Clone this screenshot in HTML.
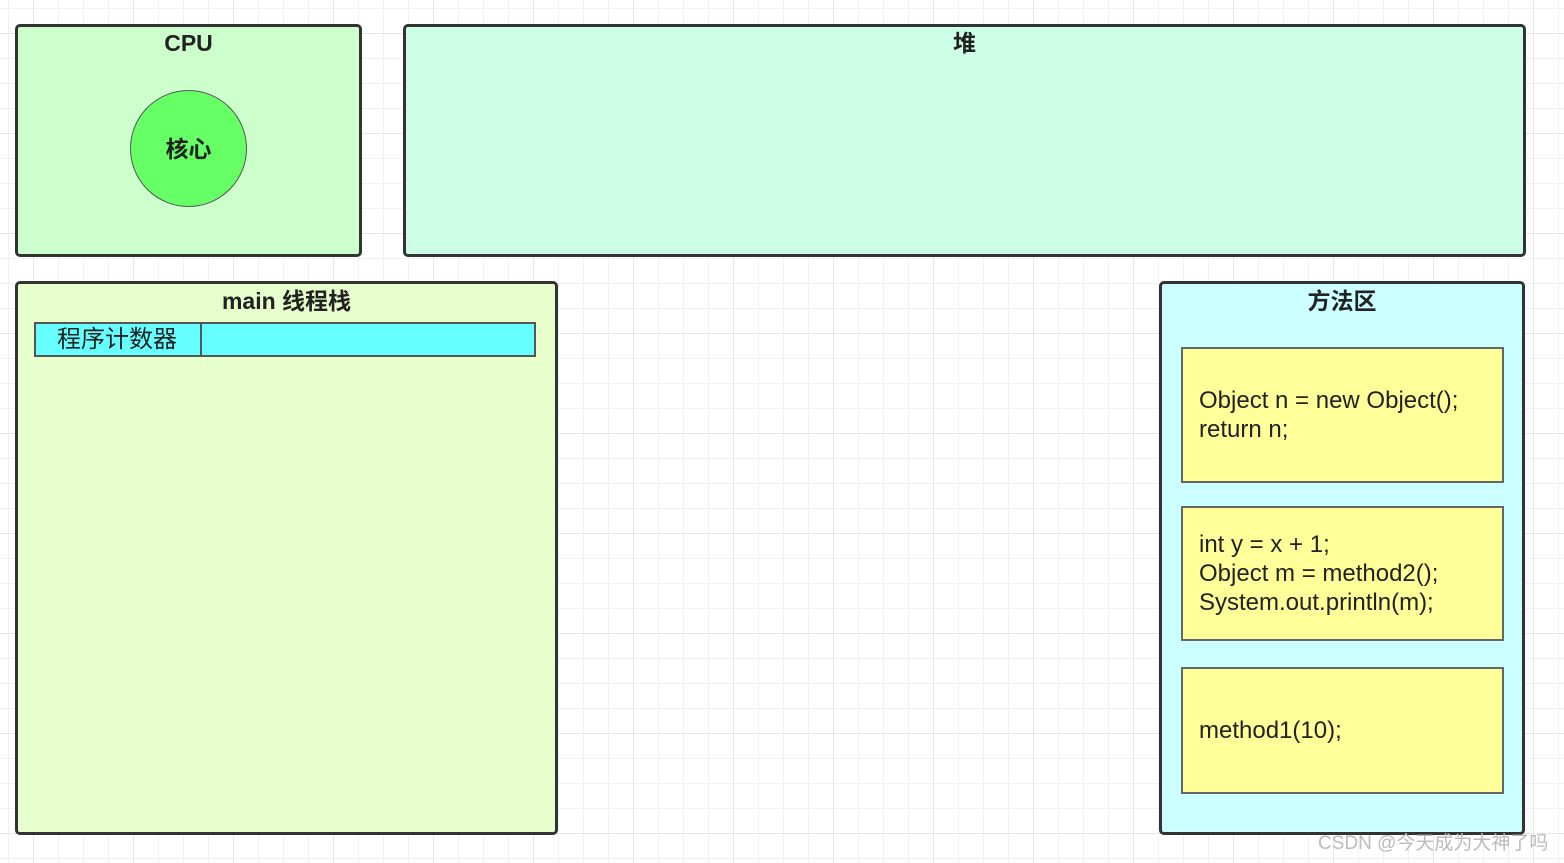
<!DOCTYPE html>
<html><head><meta charset="utf-8"><style>
body{margin:0;width:1564px;height:863px;overflow:hidden;position:relative;background:#fff;
background-image:linear-gradient(#e6e6e6 1px,transparent 1px),linear-gradient(90deg,#e6e6e6 1px,transparent 1px),linear-gradient(#f1f1f1 1px,transparent 1px),linear-gradient(90deg,#f1f1f1 1px,transparent 1px);
background-size:100px 100px,100px 100px,25px 25px,25px 25px;
background-position:0 33px,33px 0,0 8px,8px 0;
font-family:"Liberation Sans","Noto Sans CJK SC",sans-serif;}
.b{position:absolute;box-sizing:border-box;border:3px solid #333;border-radius:5px;}
.t{position:absolute;left:0;right:0;text-align:center;font-weight:bold;font-size:23px;color:#222;line-height:28px;height:28px;}
.y{position:absolute;box-sizing:border-box;border:2px solid #666;background:#ffff99;left:1181px;width:323px;font-size:24px;color:#222;padding-left:16px;display:flex;flex-direction:column;justify-content:center;line-height:29px;}
</style></head><body>
<div class="b" style="left:15px;top:24px;width:347px;height:233px;background:#ccffcc"><div class="t" style="top:2px">CPU</div></div>
<div style="position:absolute;left:130px;top:90px;width:117px;height:117px;border-radius:50%;background:#66ff66;border:1.5px solid #555;box-sizing:border-box;display:flex;align-items:center;justify-content:center;font-weight:bold;font-size:23px;color:#222;line-height:28px">核心</div>
<div class="b" style="left:403px;top:24px;width:1123px;height:233px;background:#ccffe6"><div class="t" style="top:2px">堆</div></div>
<div class="b" style="left:15px;top:281px;width:543px;height:554px;background:#e6ffcc"><div class="t" style="top:3px">main 线程栈</div></div>
<div style="position:absolute;left:34px;top:322px;width:502px;height:35px;box-sizing:border-box;border:2px solid #555;background:#66ffff"></div>
<div style="position:absolute;left:200px;top:322px;width:2px;height:35px;background:#555"></div>
<div style="position:absolute;left:34px;top:322px;width:166px;height:35px;line-height:35px;text-align:center;font-size:24px;color:#222">程序计数器</div>
<div class="b" style="left:1159px;top:281px;width:366px;height:554px;background:#ccffff"><div class="t" style="top:3px">方法区</div></div>
<div class="y" style="top:347px;height:136px">Object n = new Object();<br>return n;</div>
<div class="y" style="top:506px;height:135px">int y = x + 1;<br>Object m = method2();<br>System.out.println(m);</div>
<div class="y" style="top:667px;height:127px">method1(10);</div>
<div style="position:absolute;left:1318px;top:832px;font-size:19px;color:#bbb;line-height:24px">CSDN @今天成为大神了吗</div>
</body></html>
